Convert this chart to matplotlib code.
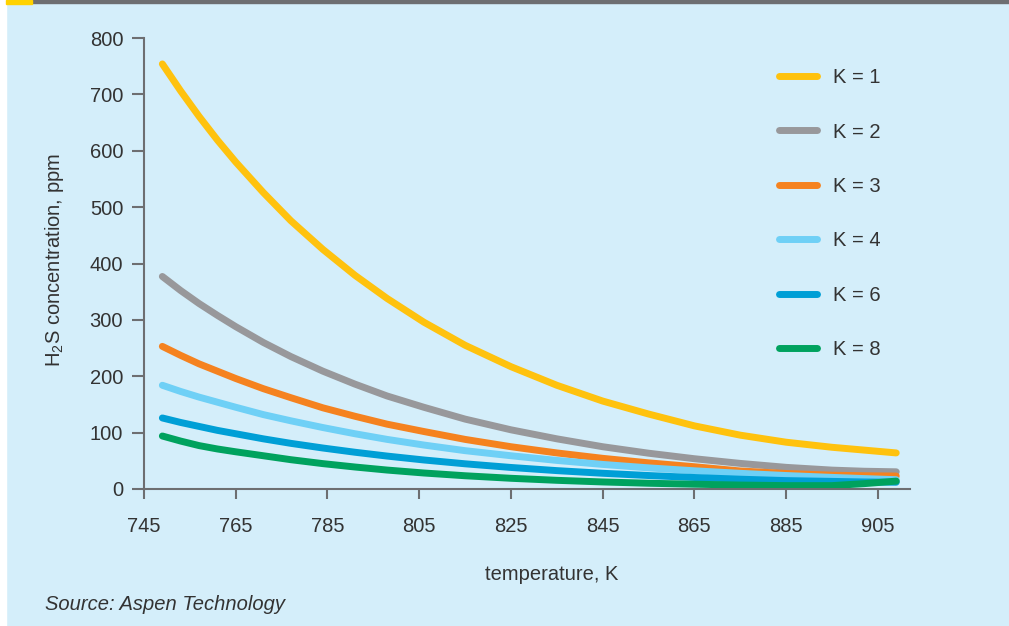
import matplotlib
matplotlib.use("Agg")
import matplotlib.pyplot as plt
from matplotlib.patches import Rectangle
from matplotlib.lines import Line2D

# temperature, K
temps = [749, 753, 757, 761, 765, 771, 777, 784, 791, 798, 806, 815, 825, 835,
         845, 855, 865, 875, 885, 895, 902, 909]

# H2S concentration, ppm
k1 = [754, 706, 661, 619, 580, 526, 476, 425, 379, 338, 296, 255, 217, 184,
      156, 133, 112, 95.5, 83, 74, 69, 64]
k2 = [377, 352, 329, 308, 288, 260, 235, 209, 186, 165, 145, 124, 105, 89,
      75, 63.5, 53.7, 45.4, 38.4, 33.5, 31.5, 30.5]
k3 = [253, 237, 222, 209, 196, 178, 162, 144, 129, 115, 102, 88, 75, 64,
      54.4, 46.4, 39.5, 32, 27.5, 24.5, 23.5, 23]
k4 = [184, 173, 163, 154, 145, 132, 121, 109, 98, 88, 78, 68, 59, 50.7,
      43.6, 37.5, 32.3, 27.8, 23.9, 20.6, 18.5, 16.5]
k6 = [126, 118, 111, 104, 98, 89, 81, 72.7, 65.2, 58.4, 51.5, 44.7, 38.2, 32.6,
      27.9, 23.9, 20.4, 17.4, 14.9, 13.5, 12.5, 12]
k8 = [94, 85, 77, 71, 66, 59, 52, 45, 39, 33.6, 28.4, 23.5, 19, 15.4,
      12.5, 10.2, 8.5, 7, 6, 6, 9.5, 14]

series = [k1, k2, k3, k4, k6, k8]
labels = ["K = 1", "K = 2", "K = 3", "K = 4", "K = 6", "K = 8"]
colors = ["#ffc20e", "#98989b", "#f5821f", "#6fd0f6", "#009fd6", "#00a25e"]

xticks = [745, 765, 785, 805, 825, 845, 865, 885, 905]
yticks = [0, 100, 200, 300, 400, 500, 600, 700, 800]

bg = "#d4eefa"
txt = "#333333"
axcol = "#6d6e71"
fs = 14.5

plt.rcParams['font.family'] = ['Liberation Sans', 'DejaVu Sans']
plt.rcParams['mathtext.fontset'] = 'custom'
plt.rcParams['mathtext.rm'] = 'Liberation Sans'

W, H = 1009, 626
fig = plt.figure(figsize=(W / 100, H / 100), dpi=100)
fig.patch.set_facecolor(bg)

# white strip on the left and top rule with yellow mark
fig.patches.append(Rectangle((0, 0), 6 / W, 1, transform=fig.transFigure, color="white", zorder=0))
fig.patches.append(Rectangle((32 / W, 1 - 3 / H), 1, 3 / H, transform=fig.transFigure, color="#6d6e71", zorder=1))
fig.patches.append(Rectangle((6 / W, 1 - 4 / H), 26 / W, 4 / H, transform=fig.transFigure, color="#ffd200", zorder=1))

left, right, bottom, top = 144, 910, 489, 38
ax = fig.add_axes([left / W, 1 - bottom / H, (right - left) / W, (bottom - top) / H])
ax.set_facecolor(bg)

for ys, lab, c in zip(series, labels, colors):
    ax.plot(temps, ys, color=c, lw=5, solid_capstyle='round', solid_joinstyle='round', label=lab)

ax.set_xlim(745, 912)
ax.set_ylim(0, 800)
ax.set_xticks(xticks)
ax.set_yticks(yticks)
for s in ["top", "right"]:
    ax.spines[s].set_visible(False)
for s in ["left", "bottom"]:
    ax.spines[s].set_color(axcol)
    ax.spines[s].set_linewidth(1.5)
ax.tick_params(axis='x', length=7, width=1.5, color=axcol, pad=13, labelsize=fs, labelcolor=txt)
ax.tick_params(axis='y', length=9, width=1.5, color=axcol, pad=6, labelsize=fs, labelcolor=txt)

fig.text(552 / W, 1 - 575 / H, "temperature, K", fontsize=fs, color=txt, ha='center', va='center')
fig.text(55 / W, 1 - 260 / H, "H$_2$S concentration, ppm", rotation=90, fontsize=fs,
         color=txt, ha='center', va='center')
fig.text(45 / W, 1 - 604 / H, "Source: Aspen Technology", fontsize=fs, style='italic',
         color=txt, ha='left', va='center')

handles = [Line2D([0], [0], color=c, lw=5, solid_capstyle='round') for c in colors]
leg = fig.legend(handles, labels, loc='upper left', bbox_to_anchor=(769 / W, 1 - 58 / H),
                 frameon=False, fontsize=fs, handlelength=1.9, handletextpad=0.8,
                 labelspacing=1.76, borderpad=0, labelcolor=txt)

fig.savefig("out.png", dpi=100, facecolor=bg)
